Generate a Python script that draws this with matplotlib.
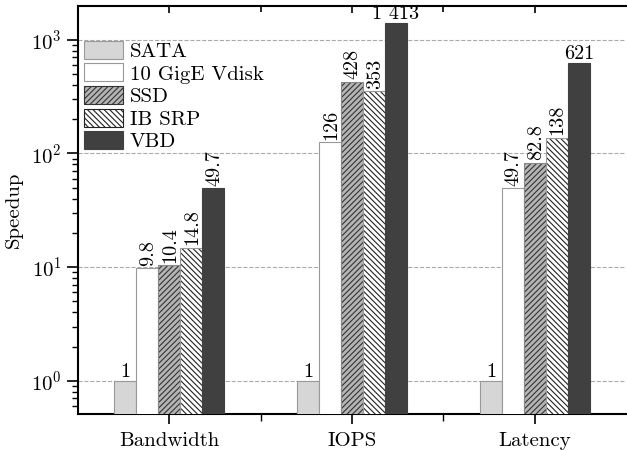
import matplotlib
matplotlib.use("Agg")
import matplotlib.pyplot as plt
import numpy as np
from matplotlib.ticker import FixedLocator

plt.rcParams['font.family'] = 'serif'
plt.rcParams['font.serif'] = ['cmr10', 'DejaVu Serif']
plt.rcParams['mathtext.fontset'] = 'cm'
plt.rcParams['axes.formatter.use_mathtext'] = True
plt.rcParams['hatch.linewidth'] = 0.8

categories = ['Bandwidth', 'IOPS', 'Latency']
series = ['SATA', '10 GigE Vdisk', 'SSD', 'IB SRP', 'VBD']
sata = [1, 1, 1]
vdisk = [9.8, 126, 49.7]
ssd = [10.4, 428, 82.8]
ibsrp = [14.8, 353, 138]
vbd = [49.7, 1413, 621]
labels = [
    ['1', '1', '1'],
    ['9.8', '126', '49.7'],
    ['10.4', '428', '82.8'],
    ['14.8', '353', '138'],
    ['49.7', '1 413', '621'],
]
# which labels are written horizontally
horizontal = [
    [True, True, True],
    [False, False, False],
    [False, False, False],
    [False, False, False],
    [False, True, True],
]

values = [sata, vdisk, ssd, ibsrp, vbd]
faces = ['#d6d6d6', 'white', '#b4b4b4', 'white', '#404040']
hatch_cols = [None, None, '#333333', '#222222', None]
edges = ['#999999', '#999999', '#888888', '#999999', '#404040']
hatches = [None, None, '//////', '\\\\\\\\\\\\', None]

fig = plt.figure(figsize=(6.27, 4.5), dpi=100)
ax = fig.add_axes([0.124, 0.08, 0.875, 0.907])

x = np.arange(len(categories))
w = 0.12
for i, vals in enumerate(values):
    pos = x + (i - 2) * w
    if hatches[i]:
        # hatch drawn in dark colour, outline drawn on top in grey
        ax.bar(pos, vals, width=w, color=faces[i], edgecolor=hatch_cols[i],
               hatch=hatches[i], linewidth=0, zorder=3)
        ax.bar(pos, vals, width=w, color='none', edgecolor=edges[i],
               linewidth=0.8, zorder=3)
        ax.bar([np.nan], [np.nan], color=faces[i], edgecolor=hatch_cols[i],
               hatch=hatches[i], linewidth=0.8, label=series[i])
    else:
        ax.bar(pos, vals, width=w, color=faces[i], edgecolor=edges[i],
               linewidth=0.8, label=series[i], zorder=3)
    for j, v in enumerate(vals):
        if horizontal[i][j]:
            ax.text(pos[j], v * 1.005, labels[i][j], ha='center', va='bottom',
                    fontsize=14.5)
        else:
            ax.text(pos[j] + 0.005, v * 1.05, labels[i][j], ha='center', va='bottom',
                    rotation=90, fontsize=14.5)

ax.set_yscale('log')
ax.set_ylim(0.51, 1990)
ax.set_xlim(-0.5, 2.5)
ax.set_xticks(x)
ax.set_xticklabels(categories, fontsize=15)
ax.xaxis.set_minor_locator(FixedLocator([0.5, 1.5]))
ax.set_ylabel('Speedup', fontsize=15, labelpad=6)
ax.tick_params(axis='y', labelsize=15, direction='out', length=8, width=1.2)
ax.tick_params(axis='y', which='minor', direction='out', length=4, width=1)
ax.tick_params(axis='x', direction='out', length=7, width=1.2, pad=6)
ax.tick_params(axis='x', which='minor', direction='out', length=5, width=1)
ax.yaxis.grid(True, which='major', linestyle='--', color='#aaaaaa', linewidth=0.8)
ax.set_axisbelow(True)
ax.spines['right'].set_visible(False)
for s in ['left', 'bottom', 'top']:
    ax.spines[s].set_linewidth(1.5)

# top ticks point inward
top = ax.secondary_xaxis('top')
top.set_xticks(x)
top.xaxis.set_minor_locator(FixedLocator([0.5, 1.5]))
top.tick_params(axis='x', which='both', direction='in', labeltop=False, width=1.2)
top.tick_params(axis='x', which='major', length=5)
top.tick_params(axis='x', which='minor', length=4)
top.spines['top'].set_visible(False)

ax.legend(loc='upper left', bbox_to_anchor=(-0.008, 0.94), frameon=False,
          fontsize=15, handlelength=1.9, handleheight=0.95, labelspacing=0.12,
          handletextpad=0.3, borderaxespad=0.1)

fig.savefig('out.png', dpi=100)
